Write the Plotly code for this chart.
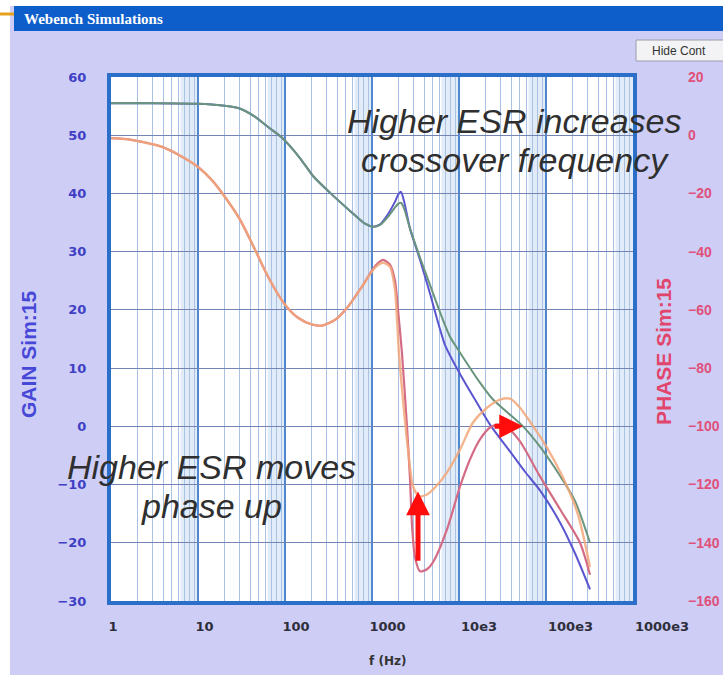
import math
import plotly.graph_objects as go

W, H = 723, 675

# ---------------- data ----------------
# Loop gain, lower ESR (Hz, dB)
gain_lo_esr_freq = [1, 2.8, 10, 19, 30, 45, 64, 92, 150, 210, 330, 560, 830, 1030, 1240,
                    1490, 1840, 2000, 2150, 2340, 2730, 3560, 4640, 6900, 10270, 15270,
                    22700, 38550, 57400, 85300, 144800, 215400, 320500]
gain_lo_esr_db = [55.5, 55.5, 55.4, 55.1, 54.6, 53.2, 51.4, 49.6, 46.0, 43.0, 40.1, 37.0,
                  34.8, 34.3, 34.7, 36.2, 38.6, 39.8, 40.3, 38.6, 34.0, 28.6, 22.8, 14.0,
                  9.0, 4.6, 0.3, -4.3, -7.8, -11.0, -16.5, -21.8, -28.0]

# Loop gain, higher ESR (Hz, dB)
gain_hi_esr_freq = [1, 2.8, 10, 19, 30, 45, 64, 92, 150, 210, 330, 560, 830, 1030, 1240,
                    1490, 1840, 2000, 2150, 2340, 2730, 3560, 4640, 6050, 7880, 9740,
                    17420, 24600, 54400, 85300, 144800, 215400, 320500]
gain_hi_esr_db = [55.5, 55.5, 55.4, 55.1, 54.6, 53.2, 51.4, 49.6, 46.0, 43.0, 40.1, 37.0,
                  34.8, 34.3, 34.6, 35.8, 37.6, 38.2, 38.4, 37.4, 34.0, 29.0, 24.3, 19.6,
                  15.4, 13.2, 7.5, 4.6, 0.0, -3.5, -8.5, -12.8, -20.0]

# Loop phase, higher ESR (Hz, deg)
phase_hi_esr_freq = [1, 1.65, 3.86, 6.21, 10, 14.5, 20.4, 30.4, 45.2, 63.8, 100, 141, 204,
                     266, 376, 530, 767, 1082, 1337, 1610, 1837, 1937, 2043, 2270, 2594,
                     2960, 3470, 4287, 5300, 7280, 10260, 14480, 20980, 29600, 38550,
                     50230, 65450, 102600, 156800, 233300, 320500]
phase_hi_esr_deg = [-1.0, -1.5, -4.0, -7.0, -10.9, -15.5, -21.2, -29.0, -39.3, -48.6,
                    -58.2, -62.7, -65.0, -65.4, -63.4, -58.9, -52.0, -45.5, -43.8, -45.2,
                    -53.0, -63.0, -75.0, -90.8, -108.0, -120.6, -124.0, -123.4, -121.0,
                    -115.8, -108.0, -98.7, -93.6, -90.8, -90.5, -93.6, -98.4, -107.3,
                    -117.6, -130.3, -148.4]

# Loop phase, lower ESR (Hz, deg)
phase_lo_esr_freq = [1, 1.65, 3.86, 6.21, 10, 14.5, 20.4, 30.4, 45.2, 63.8, 100, 141, 204,
                     266, 376, 530, 767, 1082, 1337, 1610, 1837, 1990, 2213, 2524, 2734,
                     2884, 3120, 3562, 4287, 5025, 7280, 10260, 13370, 17420, 22700,
                     27350, 35640, 50230, 85300, 144900, 245900, 320500]
phase_lo_esr_deg = [-1.0, -1.5, -4.0, -7.0, -10.9, -15.5, -21.2, -29.0, -39.3, -48.6,
                    -58.2, -62.7, -65.0, -65.4, -63.4, -58.9, -52.0, -45.0, -42.8, -44.5,
                    -50.0, -60.0, -75.0, -100.0, -118.0, -134.0, -145.0, -149.8, -149.1,
                    -146.7, -135.4, -120.7, -111.4, -104.5, -100.4, -99.4, -100.4, -105.2,
                    -117.2, -128.5, -140.0, -151.0]

# Axis ticks
freq_ticks = [1, 10, 100, 1000, 1e4, 1e5, 1e6]
freq_tick_text = ["1", "10", "100", "1000", "10e3", "100e3", "1000e3"]
gain_range = [-30, 60]
phase_range = [-160, 20]

# Arrow end points (Hz, deg / dB)
phase_arrow_freq = 3380
phase_arrow_from, phase_arrow_to = -146.7, -122.4
crossover_lo_esr, crossover_hi_esr = 24600, 54400

# ---------------- layout helpers ----------------
def fx(px):
    return px / W


def fy(py):
    return 1 - py / H


PLOT_L, PLOT_R, PLOT_T, PLOT_B = 111, 633, 77, 601
LABEL_L, LABEL_R = 113, 662          # pixel centres of the "1" and "1000e3" labels
per_dec = (LABEL_R - LABEL_L) / 6.0

BORDER = "#2b6fc8"
LAVENDER = "#cdcdf6"
TITLE_BLUE = "#0d5ecb"
GRID_H = "#7484b4"
GRID_MAJOR = "#4f88cf"
GRID_MINOR = "#a9c1e3"

minor_vals = [m * d for d in [1, 10, 100, 1000, 1e4, 1e5] for m in range(2, 10)]

fig = go.Figure()

line_common = dict(shape="spline", smoothing=0.7)
fig.add_trace(go.Scatter(x=gain_lo_esr_freq, y=gain_lo_esr_db, mode="lines",
                         line=dict(color="#5b55d0", width=2, **line_common),
                         hoverinfo="skip", showlegend=False))
fig.add_trace(go.Scatter(x=gain_hi_esr_freq, y=gain_hi_esr_db, mode="lines",
                         line=dict(color="#6a957d", width=2, **line_common),
                         hoverinfo="skip", showlegend=False))
fig.add_trace(go.Scatter(x=phase_lo_esr_freq, y=phase_lo_esr_deg, mode="lines", yaxis="y2",
                         line=dict(color="#d46c86", width=2.2, **line_common),
                         hoverinfo="skip", showlegend=False))
fig.add_trace(go.Scatter(x=phase_hi_esr_freq, y=phase_hi_esr_deg, mode="lines", yaxis="y2",
                         line=dict(color="#f3a87a", width=2.4, **line_common),
                         opacity=0.85, hoverinfo="skip", showlegend=False))
# empty trace that carries the labelled frequency axis
fig.add_trace(go.Scatter(x=[], y=[], xaxis="x2", yaxis="y3", hoverinfo="skip",
                         showlegend=False))

tick_font = dict(family="DejaVu Sans", size=13, weight="bold")

fig.update_layout(
    width=W, height=H,
    margin=dict(l=0, r=0, t=0, b=0, pad=0, autoexpand=False),
    paper_bgcolor=LAVENDER,
    plot_bgcolor="rgba(0,0,0,0)",
    xaxis=dict(
        type="log", range=[0, 6], domain=[fx(PLOT_L), fx(PLOT_R)], anchor="y",
        tickvals=freq_ticks, showticklabels=False, ticks="", automargin=False,
        showgrid=True, gridcolor=GRID_MAJOR, gridwidth=2,
        minor=dict(tickvals=minor_vals, showgrid=True, gridcolor=GRID_MINOR,
                   gridwidth=1, ticks=""),
        showline=True, linewidth=4, linecolor=BORDER, mirror=True, zeroline=False,
    ),
    xaxis2=dict(
        type="log", range=[-0.05, 6.05],
        domain=[fx(LABEL_L - 0.05 * per_dec), fx(LABEL_R + 0.05 * per_dec)],
        anchor="y3", tickvals=freq_ticks, ticktext=freq_tick_text, automargin=False,
        showgrid=False, showline=False, zeroline=False, ticks="",
        tickfont=dict(color="#2e2e3a", **tick_font), ticklabelstandoff=16,
    ),
    yaxis=dict(
        range=gain_range, dtick=10, domain=[fy(PLOT_B), fy(PLOT_T)], anchor="x",
        showgrid=True, gridcolor=GRID_H, gridwidth=1, zeroline=False, automargin=False,
        showline=True, linewidth=4, linecolor=BORDER, mirror=True, ticks="",
        tickfont=dict(color="#3f3fc4", **tick_font), ticklabelstandoff=18,
    ),
    yaxis2=dict(
        range=phase_range, dtick=20, overlaying="y", side="right", anchor="x",
        showgrid=False, zeroline=False, showline=False, ticks="", automargin=False,
        tickfont=dict(family="Liberation Sans", size=14, weight="bold", color="#e0507a"),
        ticklabelstandoff=54,
    ),
    yaxis3=dict(range=[0, 1], domain=[fy(PLOT_B), fy(PLOT_T)], anchor="x2",
                visible=False, automargin=False),
)

# window chrome, plot background and shaded bands near each decade line
shapes = [
    dict(type="rect", xref="paper", yref="paper", x0=0, x1=fx(10), y0=0, y1=1,
         fillcolor="white", line_width=0, layer="below"),
    dict(type="rect", xref="paper", yref="paper", x0=0, x1=1, y0=fy(6), y1=1,
         fillcolor="white", line_width=0, layer="below"),
    dict(type="rect", xref="paper", yref="paper", x0=fx(14), x1=1, y0=fy(31), y1=fy(6),
         fillcolor=TITLE_BLUE, line_width=0, layer="below"),
    dict(type="line", xref="paper", yref="paper", x0=0, x1=fx(14), y0=fy(14), y1=fy(14),
         line=dict(color="#e4a11b", width=3), layer="below"),
    dict(type="rect", xref="x domain", yref="y domain", x0=0, x1=1, y0=0, y1=1,
         fillcolor="white", line_width=0, layer="below"),
    dict(type="rect", xref="paper", yref="paper", x0=fx(636), x1=fx(726), y0=fy(61),
         y1=fy(40), fillcolor="#f3f3f5", line=dict(color="#9c9cab", width=1),
         layer="below"),
]
for d in freq_ticks[:-1]:
    shapes.append(dict(type="rect", xref="x", yref="y domain", x0=d * 6.3, x1=d * 10,
                       y0=0, y1=1, fillcolor="rgba(150,188,232,0.28)", line_width=0,
                       layer="below"))
fig.update_layout(shapes=shapes)

TXT = "#2f2f2f"
ital = dict(family="Liberation Sans, Arial", size=34, color=TXT)
annotations = [
    dict(text="<b>Webench Simulations</b>", x=fx(22), y=fy(19), xanchor="left",
         yanchor="middle", font=dict(family="Liberation Serif", size=15, color="white")),
    dict(text="Hide Cont", x=fx(650), y=fy(51), xanchor="left", yanchor="middle",
         font=dict(family="Liberation Sans", size=12, color="#333")),
    dict(text="<b>GAIN Sim:15</b>", x=fx(28), y=fy(354), textangle=-90,
         xanchor="center", yanchor="middle",
         font=dict(family="Liberation Sans", size=21, color="#4747d8")),
    dict(text="<b>PHASE Sim:15</b>", x=fx(664), y=fy(352), textangle=-90,
         xanchor="center", yanchor="middle",
         font=dict(family="Liberation Sans", size=21, color="#e2456c")),
    dict(text="<b>f (Hz)</b>", x=fx(387), y=fy(661), xanchor="center", yanchor="middle",
         font=dict(family="DejaVu Sans", size=12, color="#333")),
    dict(text="<i>Higher ESR increases</i>", x=fx(514), y=fy(121), xanchor="center",
         yanchor="middle", font=ital),
    dict(text="<i>crossover frequency</i>", x=fx(515), y=fy(160), xanchor="center",
         yanchor="middle", font=ital),
    dict(text="<i>Higher ESR moves</i>", x=fx(211), y=fy(467), xanchor="center",
         yanchor="middle", font=ital),
    dict(text="<i>phase up</i>", x=fx(211), y=fy(506), xanchor="center",
         yanchor="middle", font=ital),
]
for a in annotations:
    a.update(xref="paper", yref="paper", showarrow=False)

# red arrows: phase lift at the dip, and crossover shift along 0 dB
# (annotation positions on a log axis are given in log10 units)
arrows = [
    dict(x=math.log10(phase_arrow_freq), y=phase_arrow_to,
         ax=math.log10(phase_arrow_freq), ay=phase_arrow_from,
         xref="x", yref="y2", axref="x", ayref="y2"),
    dict(x=math.log10(crossover_hi_esr), y=0, ax=math.log10(crossover_lo_esr), ay=0,
         xref="x", yref="y", axref="x", ayref="y"),
]
for a in arrows:
    a.update(text="", showarrow=True, arrowhead=2, arrowsize=0.95, arrowwidth=5,
             arrowcolor="#ff0d0d", standoff=0)
fig.update_layout(annotations=annotations + arrows)

fig.write_html("out.html")
